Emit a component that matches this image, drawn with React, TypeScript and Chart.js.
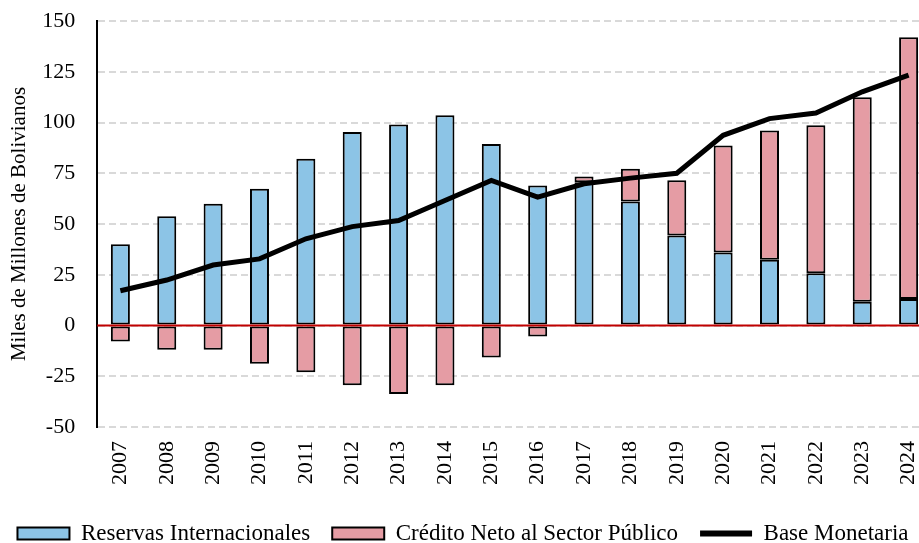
import React, { useEffect, useRef } from "react";
import { Chart, registerables } from "chart.js";

Chart.register(...registerables);

const years = [2007, 2008, 2009, 2010, 2011, 2012, 2013, 2014, 2015, 2016, 2017, 2018, 2019, 2020, 2021, 2022, 2023, 2024];
const reservas = [40.0, 53.8, 60.0, 67.4, 82.2, 95.3, 99.0, 103.6, 89.4, 69.0, 70.6, 61.1, 44.3, 36.0, 32.4, 25.7, 11.7, 13.0];
const credito = [-7.9, -12.0, -12.0, -18.8, -23.0, -29.4, -33.7, -29.4, -15.8, -5.4, 2.8, 16.1, 27.2, 52.7, 63.6, 72.9, 100.7, 129.0];
const baseMonetaria = [17.1, 22.4, 29.8, 32.8, 42.7, 48.7, 51.7, 61.6, 71.5, 63.2, 69.8, 72.6, 75.0, 93.7, 101.9, 104.7, 115.1, 123.3];
const yTicks = [-50, -25, 0, 25, 50, 75, 100, 125, 150];

const FONT = "'Liberation Serif', 'Times New Roman', serif";
const CANVAS_W = 949;
const VIEW_W = 919;

const zeroLine = {
  id: "zeroLine",
  afterDatasetsDraw(chart: any) {
    const { ctx, chartArea, scales } = chart;
    const y = scales.y.getPixelForValue(0);
    ctx.save();
    ctx.strokeStyle = "#c00000";
    ctx.lineWidth = 2;
    ctx.beginPath();
    ctx.moveTo(chartArea.left, y);
    ctx.lineTo(chartArea.right, y);
    ctx.stroke();
    ctx.restore();
  },
};

// centre the legend on the visible part of the (wider) canvas
const legendShift = {
  id: "legendShift",
  afterLayout(chart: any) {
    const lg = chart.legend;
    if (!lg) return;
    const d = (CANVAS_W - VIEW_W) / 2;
    lg.left -= d;
    lg.right -= d;
  },
};

export default function App() {
  const ref = useRef<HTMLCanvasElement | null>(null);
  useEffect(() => {
    if (!ref.current) return;
    const chart = new Chart(ref.current, {
      type: "bar",
      data: {
        labels: years.map(String),
        datasets: [
          {
            type: "bar",
            label: "Reservas Internacionales",
            data: reservas,
            backgroundColor: "#8cc4e6",
            borderColor: "#000000",
            borderWidth: 2,
            borderSkipped: false,
            stack: "s",
            order: 1,
            barPercentage: 0.82,
            categoryPercentage: 0.5,
          },
          {
            type: "bar",
            label: "Crédito Neto al Sector Público",
            data: credito,
            backgroundColor: "#e59ca4",
            borderColor: "#000000",
            borderWidth: 2,
            borderSkipped: false,
            stack: "s",
            order: 1,
            barPercentage: 0.82,
            categoryPercentage: 0.5,
          },
          {
            type: "line",
            label: "Base Monetaria",
            data: baseMonetaria,
            borderColor: "#000000",
            backgroundColor: "#000000",
            borderWidth: 5,
            pointRadius: 0,
            tension: 0,
            stack: "line",
            order: 0,
          } as any,
        ],
      },
      options: {
        animation: false,
        responsive: false,
        layout: { padding: { left: 7, right: 0, top: 21, bottom: -12 } },
        plugins: {
          tooltip: { enabled: false },
          legend: {
            position: "bottom",
            labels: {
              usePointStyle: true,
              pointStyleWidth: 52,
              boxHeight: 12,
              padding: 22,
              color: "#000",
              font: { family: FONT, size: 23 },
              sort: (a: any, b: any) => a.datasetIndex - b.datasetIndex,
              generateLabels: (c: any) => {
                const items = (Chart.defaults.plugins.legend.labels as any).generateLabels(c);
                return items.map((it: any) => ({
                  ...it,
                  pointStyle: it.datasetIndex === 2 ? "line" : "rect",
                  lineWidth: it.datasetIndex === 2 ? 6 : 2,
                }));
              },
            },
          },
        },
        scales: {
          x: {
            stacked: true,
            grid: { display: false, drawTicks: false },
            border: { display: false },
            ticks: {
              color: "#000",
              font: { family: FONT, size: 22 },
              maxRotation: 90,
              minRotation: 90,
              padding: 14,
            },
            afterFit: (s: any) => {
              s.height += 1;
            },
          },
          y: {
            stacked: true,
            min: -50,
            max: 150,
            afterBuildTicks: (s: any) => {
              s.ticks = yTicks.map((v) => ({ value: v }));
            },
            grid: { color: "#d9d9d9", lineWidth: 2, drawTicks: true, tickLength: 19, tickColor: "rgba(0,0,0,0)" },
            border: { display: true, color: "#000", width: 2, dash: [7, 4] },
            ticks: {
              color: "#000",
              font: { family: FONT, size: 22 },
              padding: 3,
            },
            title: {
              display: true,
              text: "Miles de Millones de Bolivianos",
              color: "#000",
              font: { family: FONT, size: 21 },
              padding: { top: 0, bottom: 7 },
            },
          },
        },
      },
      plugins: [zeroLine, legendShift],
    });
    return () => chart.destroy();
  }, []);
  return (
    <div style={{ position: "fixed", left: 0, top: 0, width: VIEW_W, height: 543, overflow: "hidden", background: "#fff" }}>
      <canvas ref={ref} width={CANVAS_W} height={543} style={{ display: "block" }} />
    </div>
  );
}
